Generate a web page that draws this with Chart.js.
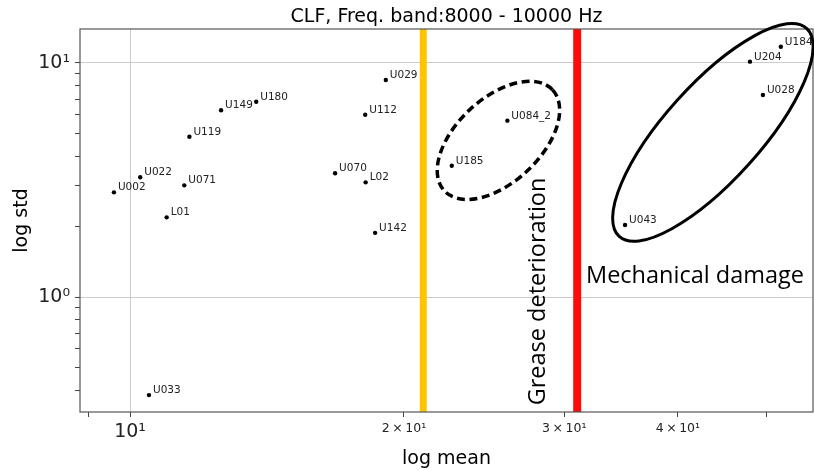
<!DOCTYPE html>
<html>
<head>
<meta charset="utf-8">
<script src="https://cdn.jsdelivr.net/npm/chart.js@4.4.1/dist/chart.umd.min.js"></script>
<style>
  body { margin: 0; background: #fff; }
  #wrap { width: 814px; height: 470px; }
</style>
</head>
<body>
<div id="wrap"><canvas id="clfChart" width="814" height="470"></canvas></div>
<script>
// Datos (log mean vs log std)
const names = ['U002', 'U022', 'U071', 'L01', 'U119', 'U149', 'U180', 'U033', 'U070', 'L02',
               'U112', 'U029', 'U142', 'U185', 'U084_2', 'U043', 'U204', 'U184', 'U028'];
const meanValues = [9.60, 10.26, 11.47, 10.97, 11.62, 12.59, 13.76, 10.49, 16.80, 18.15,
                    18.13, 19.10, 18.59, 22.57, 25.98, 34.99, 48.0, 51.9, 49.6];
const stdValues = [2.80, 3.25, 3.00, 2.19, 4.84, 6.28, 6.83, 0.381, 3.38, 3.09,
                   6.01, 8.46, 1.88, 3.64, 5.67, 2.03, 10.13, 11.74, 7.30];

// Umbrales verticales (grasa / daño mecánico)
const thresholdValues = [21, 31];

// Ticks de los ejes
const xTickValues = [9, 10, 20, 30, 40, 50];
const xTickLabels = ['', '10¹', '2\u2009×\u200910¹', '3\u2009×\u200910¹', '4\u2009×\u200910¹', ''];
const yTickValues = [0.4, 0.5, 0.6, 0.7, 0.8, 0.9, 1, 2, 3, 4, 5, 6, 7, 8, 9, 10];
const yTickLabels = ['', '', '', '', '', '', '10⁰', '', '', '', '', '', '', '', '', '10¹'];

const xRange = [8.81, 56.3];
const yRange = [0.3226, 13.97];

const titleText = 'CLF, Freq. band:8000 - 10000 Hz';

// Anotaciones (centro en unidades de datos)
const ellipses = [
  { x: 25.4, y: 4.67, rx: 74, ry: 42, angle: -43, dashed: true },
  { x: 43.7, y: 5.05, rx: 140, ry: 48, angle: -48, dashed: false }
];
const notes = [
  { text: 'Grease deterioration', x: 28.6, y: 1.056, vertical: true },
  { text: 'Mechanical damage', x: 31.7, y: 1.148, vertical: false }
];

const points = meanValues.map((m, i) => ({ x: m, y: stdValues[i] }));

function thresholdLine(value, color, width) {
  return {
    data: [{ x: value, y: yRange[0] }, { x: value, y: yRange[1] }],
    showLine: true,
    borderColor: color,
    borderWidth: width,
    pointRadius: 0,
    pointHoverRadius: 0
  };
}

// Etiquetas de cada punto
const pointLabels = {
  id: 'pointLabels',
  afterDatasetsDraw(chart) {
    const ctx = chart.ctx;
    const meta = chart.getDatasetMeta(0);
    ctx.save();
    ctx.font = '10.5px "DejaVu Sans"';
    ctx.fillStyle = '#222';
    ctx.textBaseline = 'alphabetic';
    meta.data.forEach((el, i) => {
      ctx.fillText(names[i], el.x + 4, el.y - 2);
    });
    ctx.restore();
  }
};

// Marco, título, elipses y textos
const overlay = {
  id: 'overlay',
  afterDraw(chart) {
    const ctx = chart.ctx;
    const xs = chart.scales.x, ys = chart.scales.y;
    const a = chart.chartArea;
    ctx.save();
    ctx.strokeStyle = '#555';
    ctx.lineWidth = 1.2;
    ctx.strokeRect(a.left, a.top, a.right - a.left, a.bottom - a.top);

    // título centrado sobre el área del gráfico
    ctx.font = '19px "DejaVu Sans"';
    ctx.fillStyle = '#000';
    ctx.textAlign = 'center';
    ctx.textBaseline = 'alphabetic';
    ctx.fillText(titleText, (a.left + a.right) / 2, a.top - 7);

    ellipses.forEach(e => {
      ctx.beginPath();
      ctx.ellipse(xs.getPixelForValue(e.x), ys.getPixelForValue(e.y), e.rx, e.ry,
                  e.angle * Math.PI / 180, 0, Math.PI * 2);
      ctx.strokeStyle = '#000';
      ctx.lineWidth = e.dashed ? 3.5 : 3;
      ctx.setLineDash(e.dashed ? [8, 4.5] : []);
      ctx.stroke();
    });
    ctx.setLineDash([]);

    ctx.font = '23.5px "Open Sans"';
    ctx.fillStyle = '#000';
    notes.forEach(n => {
      const px = xs.getPixelForValue(n.x), py = ys.getPixelForValue(n.y);
      if (n.vertical) {
        ctx.save();
        ctx.translate(px, py);
        ctx.rotate(-Math.PI / 2);
        ctx.textAlign = 'center';
        ctx.fillText(n.text, 0, 0);
        ctx.restore();
      } else {
        ctx.textAlign = 'left';
        ctx.fillText(n.text, px, py);
      }
    });
    ctx.restore();
  }
};

function initChart() {
  const canvas = document.getElementById('clfChart');
  new Chart(canvas.getContext('2d'), {
    type: 'scatter',
    data: {
      datasets: [
        {
          data: points,
          backgroundColor: '#000',
          borderColor: '#000',
          pointRadius: 2.2,
          borderWidth: 0
        },
        thresholdLine(thresholdValues[0], '#FFC400', 7),
        thresholdLine(thresholdValues[1], '#FF0A0A', 8)
      ]
    },
    options: {
      responsive: false,
      devicePixelRatio: 1,
      animation: false,
      layout: { autoPadding: false, padding: { left: 0, right: 1, top: 29, bottom: 0 } },
      plugins: {
        legend: { display: false },
        tooltip: { enabled: false },
        title: { display: false }
      },
      scales: {
        x: {
          type: 'logarithmic',
          bounds: 'data',
          min: xRange[0],
          max: xRange[1],
          afterBuildTicks: scale => {
            scale.ticks = xTickValues.map(v => ({ value: v }));
            scale.min = xRange[0];
            scale.max = xRange[1];
          },
          afterFit: scale => {
            scale.height = 58;
            scale.paddingLeft = 0;
            scale.paddingRight = 0;
          },
          border: { display: false },
          grid: {
            color: c => (c.tick && c.tick.value === 10) ? '#cccccc' : 'rgba(0,0,0,0)',
            tickColor: '#444',
            tickLength: 5
          },
          ticks: {
            autoSkip: false,
            maxRotation: 0,
            padding: 4,
            color: '#222',
            callback: (v, i) => xTickLabels[i],
            font: c => ({ family: 'DejaVu Sans', size: (c.tick && c.tick.value === 10) ? 19 : 12.5 })
          },
          title: {
            display: true,
            text: 'log mean',
            color: '#000',
            font: { family: 'DejaVu Sans', size: 19 },
            padding: { top: 4, bottom: 0 }
          }
        },
        y: {
          type: 'logarithmic',
          bounds: 'data',
          min: yRange[0],
          max: yRange[1],
          afterBuildTicks: scale => {
            scale.ticks = yTickValues.map(v => ({ value: v }));
            scale.min = yRange[0];
            scale.max = yRange[1];
          },
          afterFit: scale => {
            scale.width = 80;
            scale.paddingTop = 0;
            scale.paddingBottom = 0;
          },
          border: { display: false },
          grid: {
            color: c => (c.tick && (c.tick.value === 1 || c.tick.value === 10)) ? '#cccccc' : 'rgba(0,0,0,0)',
            tickColor: '#444',
            tickLength: 5
          },
          ticks: {
            autoSkip: false,
            padding: 5,
            color: '#222',
            callback: (v, i) => yTickLabels[i],
            font: { family: 'DejaVu Sans', size: 19 }
          },
          title: {
            display: true,
            text: 'log std',
            color: '#000',
            font: { family: 'DejaVu Sans', size: 19 },
            padding: { top: 11, bottom: 0 }
          }
        }
      }
    },
    plugins: [pointLabels, overlay]
  });
}

window.addEventListener('load', initChart);
</script>
</body>
</html>
